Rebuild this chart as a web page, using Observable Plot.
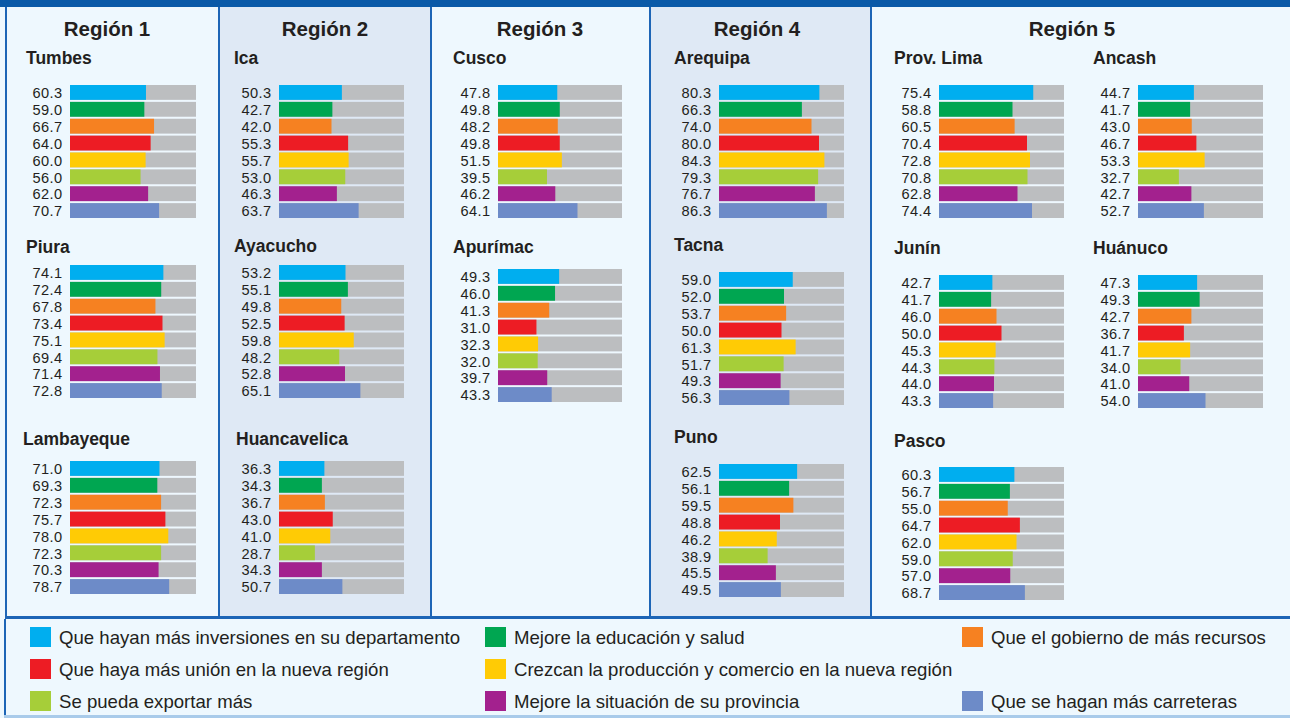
<!DOCTYPE html>
<html>
<head>
<meta charset="utf-8">
<script src="https://cdn.jsdelivr.net/npm/d3@7"></script>
<script src="https://cdn.jsdelivr.net/npm/@observablehq/plot@0.6"></script>
<style>
  html, body { margin: 0; padding: 0; background: #ffffff; }
  #root { position: relative; width: 1290px; height: 718px; overflow: hidden; background: #eef8fe;
          font-family: "Liberation Sans", Arial, Helvetica, sans-serif; color: #231f20; }
  .abs { position: absolute; }
  .lg-text { position: absolute; font-size: 18.6px; line-height: 20px; white-space: nowrap; color: #231f20; }
</style>
</head>
<body>
<div id="root"></div>
<script>
// ---------------- DATA ----------------
const categories = [
  "Que hayan más inversiones en su departamento",
  "Mejore la educación y salud",
  "Que el gobierno de más recursos",
  "Que haya más unión en la nueva región",
  "Crezcan la producción y comercio en la nueva región",
  "Se pueda exportar más",
  "Mejore la situación de su provincia",
  "Que se hagan más carreteras"
];
const colors = ["#00aeef", "#00a651", "#f68121", "#ed1c24", "#ffcb05", "#a6ce39", "#a3218e", "#6d8bc8"];
const regions = ["Región 1", "Región 2", "Región 3", "Región 4", "Región 5"];
const FULL = 100;

const tumbes       = [60.3, 59.0, 66.7, 64.0, 60.0, 56.0, 62.0, 70.7];
const piura        = [74.1, 72.4, 67.8, 73.4, 75.1, 69.4, 71.4, 72.8];
const lambayeque   = [71.0, 69.3, 72.3, 75.7, 78.0, 72.3, 70.3, 78.7];
const ica          = [50.3, 42.7, 42.0, 55.3, 55.7, 53.0, 46.3, 63.7];
const ayacucho     = [53.2, 55.1, 49.8, 52.5, 59.8, 48.2, 52.8, 65.1];
const huancavelica = [36.3, 34.3, 36.7, 43.0, 41.0, 28.7, 34.3, 50.7];
const cusco        = [47.8, 49.8, 48.2, 49.8, 51.5, 39.5, 46.2, 64.1];
const apurimac     = [49.3, 46.0, 41.3, 31.0, 32.3, 32.0, 39.7, 43.3];
const arequipa     = [80.3, 66.3, 74.0, 80.0, 84.3, 79.3, 76.7, 86.3];
const tacna        = [59.0, 52.0, 53.7, 50.0, 61.3, 51.7, 49.3, 56.3];
const puno         = [62.5, 56.1, 59.5, 48.8, 46.2, 38.9, 45.5, 49.5];
const provLima     = [75.4, 58.8, 60.5, 70.4, 72.8, 70.8, 62.8, 74.4];
const ancash       = [44.7, 41.7, 43.0, 46.7, 53.3, 32.7, 42.7, 52.7];
const junin        = [42.7, 41.7, 46.0, 50.0, 45.3, 44.3, 44.0, 43.3];
const huanuco      = [47.3, 49.3, 42.7, 36.7, 41.7, 34.0, 41.0, 54.0];
const pasco        = [60.3, 56.7, 55.0, 64.7, 62.0, 59.0, 57.0, 68.7];

const departments = [
  { name: "Tumbes", region: "Región 1", values: tumbes },
  { name: "Piura", region: "Región 1", values: piura },
  { name: "Lambayeque", region: "Región 1", values: lambayeque },
  { name: "Ica", region: "Región 2", values: ica },
  { name: "Ayacucho", region: "Región 2", values: ayacucho },
  { name: "Huancavelica", region: "Región 2", values: huancavelica },
  { name: "Cusco", region: "Región 3", values: cusco },
  { name: "Apurímac", region: "Región 3", values: apurimac },
  { name: "Arequipa", region: "Región 4", values: arequipa },
  { name: "Tacna", region: "Región 4", values: tacna },
  { name: "Puno", region: "Región 4", values: puno },
  { name: "Prov. Lima", region: "Región 5", values: provLima },
  { name: "Ancash", region: "Región 5", values: ancash },
  { name: "Junín", region: "Región 5", values: junin },
  { name: "Huánuco", region: "Región 5", values: huanuco },
  { name: "Pasco", region: "Región 5", values: pasco }
];

// ---------------- LAYOUT (pixels) ----------------
const deptLayout = {
  "Tumbes":       { tx: 26,   ty: 64,  bx: 70,   by: 85,  bw: 126 },
  "Piura":        { tx: 26,   ty: 253, bx: 70,   by: 265, bw: 126 },
  "Lambayeque":   { tx: 23,   ty: 445, bx: 70,   by: 461, bw: 126 },
  "Ica":          { tx: 234,  ty: 64,  bx: 279,  by: 85,  bw: 125 },
  "Ayacucho":     { tx: 234,  ty: 252, bx: 279,  by: 265, bw: 125 },
  "Huancavelica": { tx: 236,  ty: 445, bx: 279,  by: 461, bw: 125 },
  "Cusco":        { tx: 453,  ty: 64,  bx: 498,  by: 85,  bw: 124 },
  "Apurímac":     { tx: 453,  ty: 253, bx: 498,  by: 269, bw: 124 },
  "Arequipa":     { tx: 674,  ty: 64,  bx: 719,  by: 85,  bw: 125 },
  "Tacna":        { tx: 674,  ty: 251, bx: 719,  by: 272, bw: 125 },
  "Puno":         { tx: 674,  ty: 443, bx: 719,  by: 464, bw: 125 },
  "Prov. Lima":   { tx: 894,  ty: 64,  bx: 939,  by: 85,  bw: 125 },
  "Ancash":       { tx: 1093, ty: 64,  bx: 1138, by: 85,  bw: 125 },
  "Junín":        { tx: 894,  ty: 254, bx: 939,  by: 275, bw: 125 },
  "Huánuco":      { tx: 1093, ty: 254, bx: 1138, by: 275, bw: 125 },
  "Pasco":        { tx: 894,  ty: 447, bx: 939,  by: 467, bw: 125 }
};
const regionTitleX = { "Región 1": 107, "Región 2": 325, "Región 3": 540, "Región 4": 757, "Región 5": 1072 };
const legendPos = [
  { x: 30, y: 627 }, { x: 485, y: 627 }, { x: 962, y: 627 },
  { x: 30, y: 659 }, { x: 485, y: 659 },
  { x: 30, y: 691 }, { x: 485, y: 691 }, { x: 962, y: 691 }
];

const root = document.getElementById("root");
function box(style) {
  const d = document.createElement("div");
  d.className = "abs";
  Object.assign(d.style, style);
  root.appendChild(d);
  return d;
}

// panel backgrounds & frame
const BORDER = "#1d65b6";
box({ left: "220px", top: "7px", width: "210px", height: "609px", background: "#dfe9f5" });
box({ left: "651px", top: "7px", width: "219px", height: "609px", background: "#dfe9f5" });
box({ left: "0px", top: "0px", width: "1290px", height: "7px", background: "#0a5aa8" });
[5, 218, 430, 649, 870].forEach(x => box({ left: x + "px", top: "7px", width: "2px", height: "612px", background: BORDER }));
box({ left: "5px", top: "616px", width: "1285px", height: "3px", background: BORDER });
box({ left: "4px", top: "619px", width: "2px", height: "99px", background: BORDER });
box({ left: "4px", top: "715px", width: "1286px", height: "3px", background: "#a9cbea" });

// department bar charts
const ML = 52;
const BAND_H = 133;
departments.forEach(dep => {
  const L = deptLayout[dep.name];
  const rows = categories.map((c, i) => ({ cat: c, value: dep.values[i], full: FULL }));
  const svg = Plot.plot({
    width: ML + L.bw,
    height: BAND_H,
    marginLeft: ML, marginRight: 0, marginTop: 0, marginBottom: 0,
    x: { domain: [0, FULL], axis: null, round: false },
    y: { domain: categories, axis: null, paddingInner: 0.12, paddingOuter: 0, round: false },
    color: { domain: categories, range: colors },
    style: { background: "transparent", fontFamily: "'Liberation Sans', Arial, sans-serif", fontSize: "14.6px", color: "#231f20", overflow: "visible", letterSpacing: "0.4px" },
    marks: [
      Plot.barX(rows, { y: "cat", x: "full", fill: "#bcbec0" }),
      Plot.barX(rows, { y: "cat", x: "value", fill: "cat" }),
      Plot.text(rows, { y: "cat", x: 0, text: d => d.value.toFixed(1), textAnchor: "end", dx: -8, dy: 0.5, fill: "#231f20", fontSize: 14.6 })
    ]
  });
  svg.style.position = "absolute";
  svg.style.left = (L.bx - ML) + "px";
  svg.style.top = L.by + "px";
  root.appendChild(svg);
});

// titles overlay
const ov = d3.select(root).append("svg")
  .attr("width", 1290).attr("height", 718)
  .style("position", "absolute").style("left", "0px").style("top", "0px")
  .style("pointer-events", "none")
  .style("font-family", "'Liberation Sans', Arial, sans-serif");
ov.selectAll("text.region").data(regions).join("text")
  .attr("class", "region")
  .attr("x", d => regionTitleX[d]).attr("y", 36)
  .attr("text-anchor", "middle")
  .attr("font-size", 20.5).attr("font-weight", "bold").attr("fill", "#231f20")
  .text(d => d);
ov.selectAll("text.dept").data(departments).join("text")
  .attr("class", "dept")
  .attr("x", d => deptLayout[d.name].tx).attr("y", d => deptLayout[d.name].ty)
  .attr("font-size", 17.5).attr("font-weight", "bold").attr("fill", "#231f20")
  .text(d => d.name);

// legend
categories.forEach((c, i) => {
  const p = legendPos[i];
  box({ left: p.x + "px", top: p.y + "px", width: "21px", height: "20px", background: colors[i] });
  const t = box({});
  t.className = "lg-text";
  t.style.left = (p.x + 29) + "px";
  t.style.top = (p.y + 0.5) + "px";
  t.textContent = c;
});
</script>
</body>
</html>
